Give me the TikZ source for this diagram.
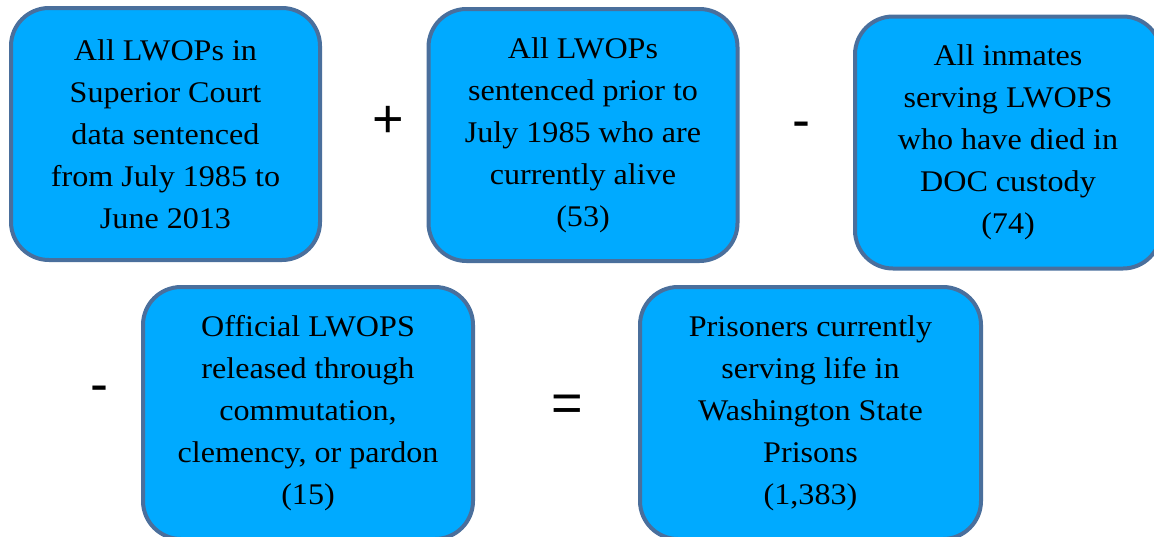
\documentclass[tikz,border=0pt]{standalone}
\usepackage{fontspec}
\setmainfont{Liberation Serif}[FakeStretch=1.07]
\newfontfamily\opfont{Liberation Sans}
\definecolor{boxfill}{HTML}{00AAFF}
\definecolor{boxline}{HTML}{4A6F9C}

\begin{document}
\begin{tikzpicture}[x=1pt,y=-1pt]
	\tikzstyle{total} = [rectangle,rounded corners=38pt,draw=boxline,line width=4pt,fill=boxfill,align=center,font=\fontsize{30}{42}\selectfont,minimum height=252pt,inner sep=0pt]
	\tikzstyle{op} = [font=\opfont\fontsize{54}{54}\selectfont,inner sep=0pt,anchor=base]
	
	\useasboundingbox (0,0) rectangle (1154,536);
	\clip (0,0) rectangle (1154,536);
	
	\node[total,minimum width=309pt] (court) at (165.5,134) {All LWOPs in\\Superior Court\\data sentenced\\from July 1985 to\\June 2013};
	\node[total,minimum width=309pt] (prior) at (583,135) {All LWOPs\\sentenced prior to\\July 1985 who are\\currently alive\\(53)};
	\node[total,minimum width=306pt] (died) at (1008,142.5) {All inmates\\serving LWOPS\\who have died in\\DOC custody\\(74)};
	\node[total,minimum width=330pt] (released) at (308,413) {Official LWOPS\\released through\\commutation,\\clemency, or pardon\\(15)};
	\node[total,minimum width=341pt] (serving) at (810.5,413) {Prisoners currently\\serving life in\\Washington State\\Prisons\\(1,383)};
	
	\node[op] (plus) at (388,137) {+};
	\node[op] (minusa) at (801,138) {-};
	\node[op] (minusb) at (99,402) {-};
	\node[op] (equals) at (567,421) {=};
\end{tikzpicture}
\end{document}
